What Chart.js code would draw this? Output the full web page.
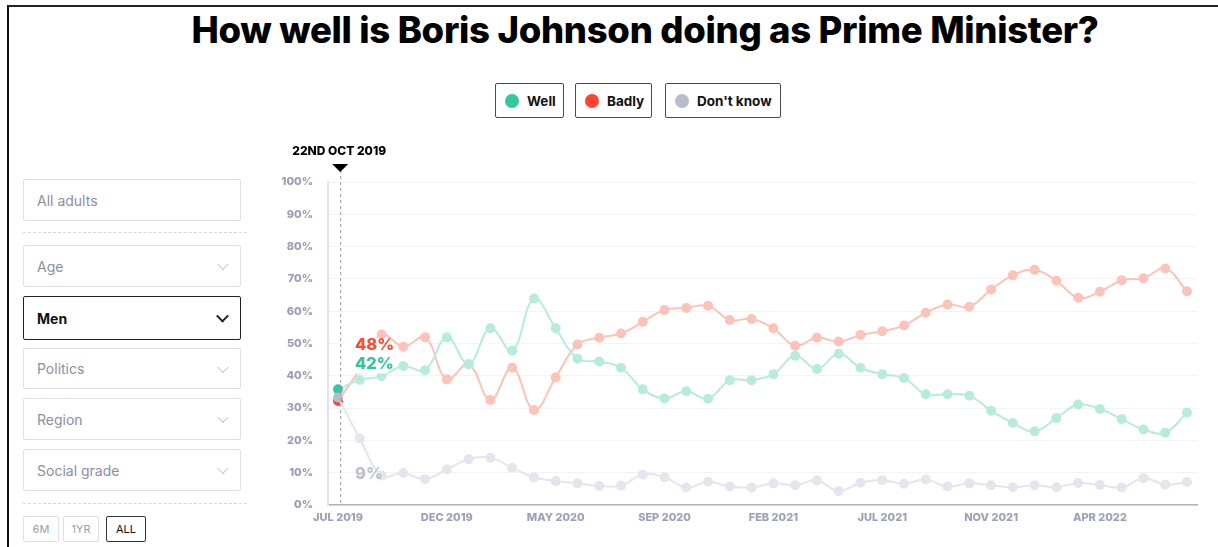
<!DOCTYPE html>
<html>
<head>
<meta charset="utf-8">
<script src="https://cdn.jsdelivr.net/npm/chart.js@4"></script>
<style>
  html, body { margin:0; padding:0; background:#fff; }
  body { width:1218px; height:547px; position:relative; overflow:hidden; font-family: Inter, "Open Sans", sans-serif; }
  .frame-top { position:absolute; left:7px; top:5px; width:1211px; height:2px; background:#222; }
  .frame-left { position:absolute; left:7px; top:5px; width:2px; height:542px; background:#111; }
  #title { position:absolute; left:0; width:1290px; top:8px; text-align:center; font-weight:800; font-size:34px; color:#000; white-space:nowrap; letter-spacing:-0.3px; }
  .leg { position:absolute; top:83px; height:35px; border:1.5px solid #4a4a4a; border-radius:2px; box-sizing:border-box; font-weight:700; font-size:13.5px; color:#111; display:flex; align-items:center; }
  .leg .dot { width:14px; height:14px; border-radius:50%; margin:0 8px 0 9px; }
  .box { position:absolute; left:23px; width:218px; box-sizing:border-box; border:1px solid #dde0e6; border-radius:2px; font-size:14px; color:#8a90a0; display:flex; align-items:center; padding-left:13px; }
  .box .chev { position:absolute; right:13px; top:50%; width:7px; height:7px; border-right:1.5px solid #c4c8d2; border-bottom:1.5px solid #c4c8d2; transform:translateY(-70%) rotate(45deg); }
  .box.sel { border:1.5px solid #222; color:#111; font-weight:700; }
  .box.sel .chev { border-color:#222; border-width:2px; }
  .sep { position:absolute; left:23px; width:224px; border-top:1px dashed #d4d7de; }
  .btn { position:absolute; top:516px; height:26px; box-sizing:border-box; border:1px solid #dde0e6; border-radius:2px; font-size:11px; color:#9aa0b0; display:flex; align-items:center; justify-content:center; }
  .btn.sel { border:1.5px solid #333; color:#111; }
  #wrap { position:absolute; left:270px; top:140px; width:940px; height:400px; }
</style>
</head>
<body>
<div class="frame-top"></div>
<div class="frame-left"></div>
<div id="title">How well is Boris Johnson doing as Prime Minister?</div>

<div class="leg" style="left:495px;width:69px;"><span class="dot" style="background:#34c7a2"></span>Well</div>
<div class="leg" style="left:575px;width:77px;"><span class="dot" style="background:#ff4433"></span>Badly</div>
<div class="leg" style="left:665px;width:116px;"><span class="dot" style="background:#b7bdca"></span>Don't know</div>

<div class="box" style="top:179px;height:42px;">All adults</div>
<div class="sep" style="top:232px;"></div>
<div class="box" style="top:245px;height:42px;">Age<span class="chev"></span></div>
<div class="box sel" style="top:296px;height:44px;">Men<span class="chev"></span></div>
<div class="box" style="top:348px;height:41px;">Politics<span class="chev"></span></div>
<div class="box" style="top:398px;height:42px;">Region<span class="chev"></span></div>
<div class="box" style="top:449px;height:42px;">Social grade<span class="chev"></span></div>
<div class="sep" style="top:503px;"></div>
<div class="btn" style="left:23px;width:36px;">6M</div>
<div class="btn" style="left:63px;width:36px;">1YR</div>
<div class="btn sel" style="left:106px;width:40px;">ALL</div>

<div id="wrap"><canvas id="c"></canvas></div>

<script>
// ---- Data (percent) ----
const tickLabels = ["JUL 2019","DEC 2019","MAY 2020","SEP 2020","FEB 2021","JUL 2021","NOV 2021","APR 2022"];
const tickIndices = [0,5,10,15,20,25,30,35];
const well = [35.8,38.7,39.9,43.0,41.7,51.9,43.6,54.7,47.8,63.9,54.7,45.3,44.4,42.5,35.8,33.0,35.2,32.9,38.6,38.6,40.5,46.2,42.1,46.8,42.5,40.5,39.3,34.3,34.3,33.8,29.2,25.4,22.8,26.9,31.1,29.7,26.6,23.4,22.4,28.6];
const badly = [32.2,42.0,52.8,49.0,51.9,38.9,43.6,32.5,42.5,29.4,39.5,49.7,51.8,53.1,56.7,60.4,61.0,61.7,57.3,57.6,54.7,49.3,51.8,50.6,52.6,53.8,55.6,59.5,62.1,61.4,66.7,71.1,72.8,69.4,64.2,66.0,69.6,70.2,73.2,66.2];
const dontKnow = [33.3,20.6,9.1,9.9,8.0,11.0,14.2,14.6,11.5,8.6,7.4,6.7,5.9,6.0,9.4,8.6,5.4,7.2,5.7,5.4,6.7,6.1,7.6,4.3,6.9,7.7,6.6,7.9,5.7,6.7,6.1,5.5,6.1,5.5,6.8,6.2,5.4,8.3,6.3,7.1];
const yTicks = [0,10,20,30,40,50,60,70,80,90,100];
const markerLabel = "22ND OCT 2019";
const calloutLabels = [{text:"48%", color:"#ff4a2e", y:49.5},{text:"42%", color:"#34c49c", y:43.5},{text:"9%", color:"#bcc0cc", y:9.5}];

// fit title width
(function(){
  const t = document.getElementById('title');
  const c = document.createElement('canvas').getContext('2d');
  c.font = '800 34px Inter';
  const w = c.measureText(t.textContent).width;
  const fs = 34 * 905 / (w - 0.3*50);
  t.style.fontSize = Math.min(40, Math.max(28, fs)).toFixed(1) + 'px';
})();

const toPts = arr => arr.map((v,i)=>({x:i,y:v}));
const mk = (label, data, line, strong) => ({
  label, data: toPts(data),
  borderColor: line, backgroundColor: line,
  pointBackgroundColor: data.map((v,i)=> i===0 ? strong : line),
  pointBorderColor: data.map((v,i)=> i===0 ? strong : line),
  pointRadius: 4, pointHoverRadius: 4, borderWidth: 2, tension: 0.4, fill:false
});

const overlay = {
  id:'overlay',
  afterDatasetsDraw(chart){
    const {ctx, scales:{x,y}} = chart;
    const px = x.getPixelForValue(0.1);
    ctx.save();
    // callout background
    const lx = x.getPixelForValue(0.78);
    ctx.fillStyle = '#fff';
    const yTop = y.getPixelForValue(calloutLabels[0].y) - 7;
    const yBot = y.getPixelForValue(calloutLabels[1].y) + 9;
    ctx.fillRect(px + 5, yTop, lx + 33 - (px + 5), yBot - yTop);
    // dashed marker line
    ctx.strokeStyle = '#9a9ea8'; ctx.lineWidth = 1; ctx.setLineDash([3,3]);
    ctx.beginPath(); ctx.moveTo(px+0.5, chart.chartArea.top - 12); ctx.lineTo(px+0.5, chart.chartArea.bottom); ctx.stroke();
    ctx.setLineDash([]);
    // triangle
    ctx.fillStyle = '#000';
    ctx.beginPath(); ctx.moveTo(px-8, chart.chartArea.top - 18); ctx.lineTo(px+8, chart.chartArea.top - 18); ctx.lineTo(px, chart.chartArea.top - 10); ctx.closePath(); ctx.fill();
    ctx.font = '800 12px Inter'; ctx.textAlign = 'center'; ctx.textBaseline = 'middle';
    ctx.fillText(markerLabel, px - 1, chart.chartArea.top - 31);
    // callouts
    ctx.textAlign = 'left';
    ctx.font = '800 16.5px Inter';
    calloutLabels.forEach(l => { ctx.fillStyle = l.color; ctx.fillText(l.text, lx, y.getPixelForValue(l.y)); });
    ctx.restore();
  }
};

new Chart(document.getElementById('c'), {
  type:'line',
  data:{ datasets:[ mk('Don\'t know', dontKnow, '#e4e6ed', '#b7bdca'), mk('Well', well, '#b7ecdd', '#34c7a2'), mk('Badly', badly, '#fcc3b8', '#ff4433') ] },
  options:{
    responsive:true, maintainAspectRatio:false, animation:false,
    layout:{ padding:{ top:42, right:13, left:0, bottom:0 } },
    plugins:{ legend:{display:false}, tooltip:{enabled:false} },
    scales:{
      x:{ type:'linear', min:-0.46, max:39.46,
        afterBuildTicks: a => { a.ticks = tickIndices.map(v=>({value:v})); },
        afterFit: s => { s.height = 35; },
        ticks:{ callback: v => tickLabels[tickIndices.indexOf(v)], color:'#9ca2b6', font:{family:'Inter', weight:'800', size:11}, maxRotation:0, autoSkip:false, padding:6 },
        grid:{ display:false, drawTicks:false },
        border:{ color:'#aeb3c0', width:1.5 }
      },
      y:{ min:0, max:100,
        afterBuildTicks: a => { a.ticks = yTicks.map(v=>({value:v})); },
        afterFit: s => { s.width = 58; },
        ticks:{ callback: v => v + '%', color:'#9d9bb3', font:{family:'Inter', weight:'800', size:11}, padding:15 },
        grid:{ color:'#f4f4f7', drawTicks:false },
        border:{ color:'#e2e3ec', width:2 }
      }
    }
  },
  plugins:[overlay]
});
</script>
</body>
</html>
